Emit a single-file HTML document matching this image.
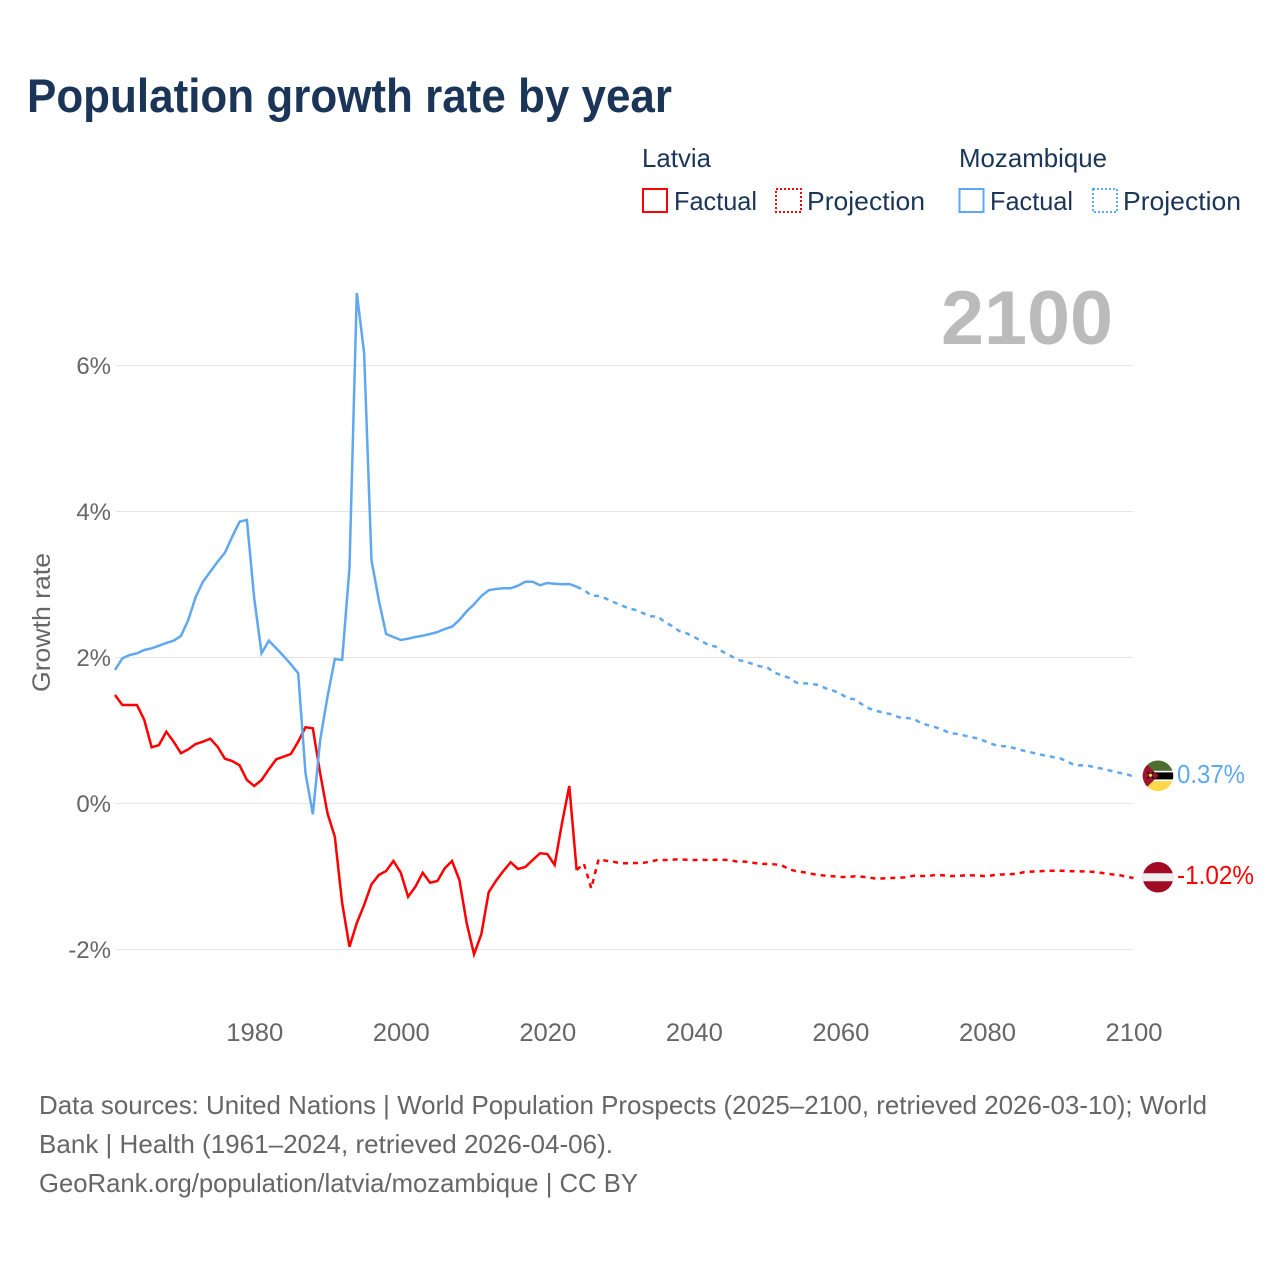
<!DOCTYPE html>
<html lang="en">
<head>
<meta charset="utf-8">
<title>Population growth rate by year</title>
<style>
  html, body { margin: 0; padding: 0; background: #ffffff; }
  svg { display: block; font-family: "Liberation Sans", sans-serif; }
</style>
</head>
<body>
<svg id="chart" xmlns="http://www.w3.org/2000/svg" width="1280" height="1280" viewBox="0 0 1280 1280">
  <defs>
    <clipPath id="flag-clip"><circle cx="0" cy="0" r="15.3"></circle></clipPath>
  </defs>
  <rect x="0" y="0" width="1280" height="1280" fill="#ffffff"></rect>

  <text x="27" y="112" font-size="47" font-weight="700" fill="#1a3557" textLength="645" lengthAdjust="spacingAndGlyphs">Population growth rate by year</text>

  <g font-size="26" fill="#1a3557">
    <text x="642" y="167" textLength="69" lengthAdjust="spacingAndGlyphs">Latvia</text>
    <rect x="643" y="189" width="24" height="23" fill="none" stroke="#ff0000" stroke-width="2"></rect>
    <text x="674" y="210" textLength="83" lengthAdjust="spacingAndGlyphs">Factual</text>
    <rect x="776" y="189" width="25" height="23" fill="none" stroke="#ff0000" stroke-width="2" stroke-dasharray="2 2"></rect>
    <text x="807" y="210" textLength="118" lengthAdjust="spacingAndGlyphs">Projection</text>

    <text x="959" y="167" textLength="148" lengthAdjust="spacingAndGlyphs">Mozambique</text>
    <rect x="959.5" y="189" width="24" height="23" fill="none" stroke="#5fa8ef" stroke-width="2"></rect>
    <text x="990" y="210" textLength="83" lengthAdjust="spacingAndGlyphs">Factual</text>
    <rect x="1093" y="189" width="24" height="23" fill="none" stroke="#5fa8ef" stroke-width="2" stroke-dasharray="2 2"></rect>
    <text x="1123" y="210" textLength="118" lengthAdjust="spacingAndGlyphs">Projection</text>
  </g>

  <g id="grid"></g>
  <g id="y-ticks" font-size="24" fill="#666666"></g>
  <g id="x-ticks" font-size="25" fill="#666666"></g>

  <text transform="translate(50 692) rotate(-90)" font-size="25" fill="#666666" textLength="139" lengthAdjust="spacingAndGlyphs">Growth rate</text>

  <text x="1113" y="344" text-anchor="end" font-size="76" font-weight="700" fill="#bbbbbb" textLength="172" lengthAdjust="spacingAndGlyphs">2100</text>

  <g id="series"></g>

  <g id="flag-mozambique">
    <g clip-path="url(#flag-clip)">
      <rect x="-16" y="-16" width="32" height="32" fill="#ffffff"></rect>
      <rect x="-16" y="-16" width="32" height="11" fill="#4e6e2e"></rect>
      <rect x="-16" y="-3.4" width="32" height="7" fill="#000000"></rect>
      <rect x="-16" y="5.3" width="32" height="11" fill="#ffd84a"></rect>
      <polygon points="-16,-16 0.5,0 -16,16" fill="#a3122c"></polygon>
      <path d="M-11,-4 L-4,3 M-4,-4 L-11,3" stroke="#111111" stroke-width="1.6" fill="none"></path>
      <circle cx="-7.5" cy="-0.5" r="1.6" fill="#ffd84a"></circle>
    </g>
  </g>
  <g id="flag-latvia">
    <g clip-path="url(#flag-clip)">
      <rect x="-16" y="-16" width="32" height="32" fill="#a00a24"></rect>
      <rect x="-16" y="-4" width="32" height="8" fill="#efefef"></rect>
    </g>
  </g>
  <text id="label-mozambique" x="1177" font-size="26" fill="#5fa8ef" textLength="68" lengthAdjust="spacingAndGlyphs"></text>
  <text id="label-latvia" x="1177" font-size="26" fill="#ff0000" textLength="77" lengthAdjust="spacingAndGlyphs"></text>

  <g font-size="26" fill="#666666">
    <text x="39" y="1114" textLength="1168" lengthAdjust="spacingAndGlyphs">Data sources: United Nations | World Population Prospects (2025–2100, retrieved 2026-03-10); World</text>
    <text x="39" y="1153" textLength="574" lengthAdjust="spacingAndGlyphs">Bank | Health (1961–2024, retrieved 2026-04-06).</text>
    <text x="39" y="1192" textLength="599" lengthAdjust="spacingAndGlyphs">GeoRank.org/population/latvia/mozambique | CC BY</text>
  </g>
</svg>

<script>
var factualStartYear = 1961;
var projectionStartYear = 2024;

var xTickYears = [1980, 2000, 2020, 2040, 2060, 2080, 2100];
var yTickValues = [-2, 0, 2, 4, 6];
var yTickLabels = ["-2%", "0%", "2%", "4%", "6%"];
var endLabels = ["-1.02%", "0.37%"];

var latviaFactual = [
  1.486, 1.349, 1.349, 1.349, 1.144, 0.770, 0.801, 0.984, 0.847, 0.688,
  0.742, 0.815, 0.847, 0.888, 0.778, 0.614, 0.582, 0.523, 0.322, 0.240,
  0.322, 0.468, 0.605, 0.641, 0.678, 0.847, 1.044, 1.030, 0.414, -0.134,
  -0.455, -1.363, -1.962, -1.637, -1.390, -1.107, -0.979, -0.925, -0.788, -0.948,
  -1.277, -1.140, -0.948, -1.085, -1.062, -0.888, -0.788, -1.048, -1.641, -2.066,
  -1.788, -1.216, -1.058, -0.925, -0.805, -0.897, -0.870, -0.774, -0.682, -0.692,
  -0.842, -0.271, 0.240, -0.911
];

var latviaProjection = [
  -0.911, -0.825, -1.162, -0.764, -0.784, -0.797, -0.819, -0.819, -0.815, -0.815,
  -0.797, -0.774, -0.774, -0.770, -0.764, -0.770, -0.774, -0.770, -0.774, -0.770,
  -0.770, -0.778, -0.797, -0.797, -0.811, -0.825, -0.829, -0.833, -0.847, -0.901,
  -0.929, -0.942, -0.962, -0.979, -0.989, -0.997, -1.007, -1.007, -0.997, -1.003,
  -1.016, -1.030, -1.025, -1.021, -1.016, -1.011, -0.989, -0.993, -0.993, -0.979,
  -0.984, -0.993, -0.993, -0.984, -0.984, -0.989, -0.997, -0.979, -0.973, -0.970,
  -0.962, -0.942, -0.934, -0.929, -0.925, -0.921, -0.921, -0.925, -0.929, -0.929,
  -0.934, -0.941, -0.956, -0.970, -0.979, -1.003, -1.02
];

var mozambiqueFactual = [
  1.829, 1.989, 2.034, 2.057, 2.103, 2.126, 2.162, 2.199, 2.230, 2.295,
  2.514, 2.825, 3.038, 3.175, 3.312, 3.436, 3.655, 3.860, 3.884, 2.811,
  2.058, 2.230, 2.126, 2.021, 1.907, 1.784, 0.414, -0.148, 0.870, 1.463,
  1.979, 1.966, 3.226, 6.993, 6.171, 3.336, 2.788, 2.322, 2.281, 2.240,
  2.258, 2.281, 2.299, 2.322, 2.349, 2.390, 2.422, 2.514, 2.633, 2.729,
  2.842, 2.921, 2.938, 2.948, 2.948, 2.984, 3.038, 3.038, 2.989, 3.021,
  3.011, 3.003, 3.007, 2.970
];

var mozambiqueProjection = [
  2.970, 2.925, 2.849, 2.842, 2.808, 2.760, 2.719, 2.678, 2.651, 2.610,
  2.564, 2.564, 2.490, 2.432, 2.363, 2.332, 2.285, 2.226, 2.171, 2.148,
  2.075, 2.025, 1.966, 1.948, 1.911, 1.879, 1.866, 1.792, 1.756, 1.719,
  1.655, 1.647, 1.641, 1.623, 1.578, 1.548, 1.504, 1.441, 1.427, 1.353,
  1.299, 1.267, 1.240, 1.222, 1.181, 1.171, 1.162, 1.099, 1.071, 1.044,
  1.007, 0.962, 0.952, 0.929, 0.907, 0.884, 0.842, 0.805, 0.788, 0.778,
  0.751, 0.723, 0.701, 0.678, 0.655, 0.637, 0.619, 0.573, 0.523, 0.523,
  0.514, 0.490, 0.473, 0.445, 0.422, 0.404, 0.37
];

var SVG_NS = "http://www.w3.org/2000/svg";

function xScale(year) {
  return 115 + (year - 1961) * (1133.5 - 115) / (2100 - 1961);
}
function yScale(value) {
  return 803.5 - value * 73;
}
function seriesPath(values, startYear) {
  var d = "";
  for (var i = 0; i < values.length; i++) {
    d += (i === 0 ? "M" : "L") + xScale(startYear + i).toFixed(2) + " " + yScale(values[i]).toFixed(2);
  }
  return d;
}

var gridGroup = document.getElementById("grid");
var yTickGroup = document.getElementById("y-ticks");
yTickValues.forEach(function (value, i) {
  var line = document.createElementNS(SVG_NS, "line");
  
  
  line.setAttribute("x1", 115.5);
  line.setAttribute("x2", 1133.5);
  line.setAttribute("y1", yScale(value));
  line.setAttribute("y2", yScale(value));
  line.setAttribute("stroke", "#e6e6e6");
  line.setAttribute("stroke-width", "1");
  gridGroup.appendChild(line);

  var label = document.createElementNS(SVG_NS, "text");
  
  
  label.setAttribute("x", 111);
  label.setAttribute("y", yScale(value) + 8.5);
  label.setAttribute("text-anchor", "end");
  label.textContent = yTickLabels[i];
  yTickGroup.appendChild(label);
});

var xTickGroup = document.getElementById("x-ticks");
xTickYears.forEach(function (year) {
  var label = document.createElementNS(SVG_NS, "text");
  
  
  label.setAttribute("x", xScale(year) + 0.5);
  label.setAttribute("y", 1041);
  label.setAttribute("text-anchor", "middle");
  label.setAttribute("textLength", "57");
  label.setAttribute("lengthAdjust", "spacingAndGlyphs");
  label.textContent = String(year);
  xTickGroup.appendChild(label);
});

var seriesGroup = document.getElementById("series");

var latviaFactualLine = document.createElementNS(SVG_NS, "path");


latviaFactualLine.setAttribute("d", seriesPath(latviaFactual, factualStartYear));
latviaFactualLine.setAttribute("fill", "none");
latviaFactualLine.setAttribute("stroke", "#ff0000");
latviaFactualLine.setAttribute("stroke-width", "2.5");
seriesGroup.appendChild(latviaFactualLine);

var latviaProjectionLine = document.createElementNS(SVG_NS, "path");


latviaProjectionLine.setAttribute("d", seriesPath(latviaProjection, projectionStartYear));
latviaProjectionLine.setAttribute("fill", "none");
latviaProjectionLine.setAttribute("stroke", "#ff0000");
latviaProjectionLine.setAttribute("stroke-width", "2.5");
latviaProjectionLine.setAttribute("stroke-dasharray", "5 5");
seriesGroup.appendChild(latviaProjectionLine);

var mozambiqueFactualLine = document.createElementNS(SVG_NS, "path");


mozambiqueFactualLine.setAttribute("d", seriesPath(mozambiqueFactual, factualStartYear));
mozambiqueFactualLine.setAttribute("fill", "none");
mozambiqueFactualLine.setAttribute("stroke", "#5fa8ef");
mozambiqueFactualLine.setAttribute("stroke-width", "2.5");
seriesGroup.appendChild(mozambiqueFactualLine);

var mozambiqueProjectionLine = document.createElementNS(SVG_NS, "path");


mozambiqueProjectionLine.setAttribute("d", seriesPath(mozambiqueProjection, projectionStartYear));
mozambiqueProjectionLine.setAttribute("fill", "none");
mozambiqueProjectionLine.setAttribute("stroke", "#5fa8ef");
mozambiqueProjectionLine.setAttribute("stroke-width", "2.5");
mozambiqueProjectionLine.setAttribute("stroke-dasharray", "5 5");
seriesGroup.appendChild(mozambiqueProjectionLine);

var latviaEnd = latviaProjection[latviaProjection.length - 1];
var mozambiqueEnd = mozambiqueProjection[mozambiqueProjection.length - 1];
document.getElementById("flag-latvia").setAttribute("transform", "translate(1158 " + (yScale(latviaEnd) - 0.7) + ")");
document.getElementById("flag-mozambique").setAttribute("transform", "translate(1158 " + (yScale(mozambiqueEnd) - 0.7) + ")");
var latviaLabel = document.getElementById("label-latvia");
latviaLabel.setAttribute("y", yScale(latviaEnd) + 6);
latviaLabel.textContent = endLabels[0];
var mozambiqueLabel = document.getElementById("label-mozambique");
mozambiqueLabel.setAttribute("y", yScale(mozambiqueEnd) + 6.5);
mozambiqueLabel.textContent = endLabels[1];
</script>
</body>
</html>
